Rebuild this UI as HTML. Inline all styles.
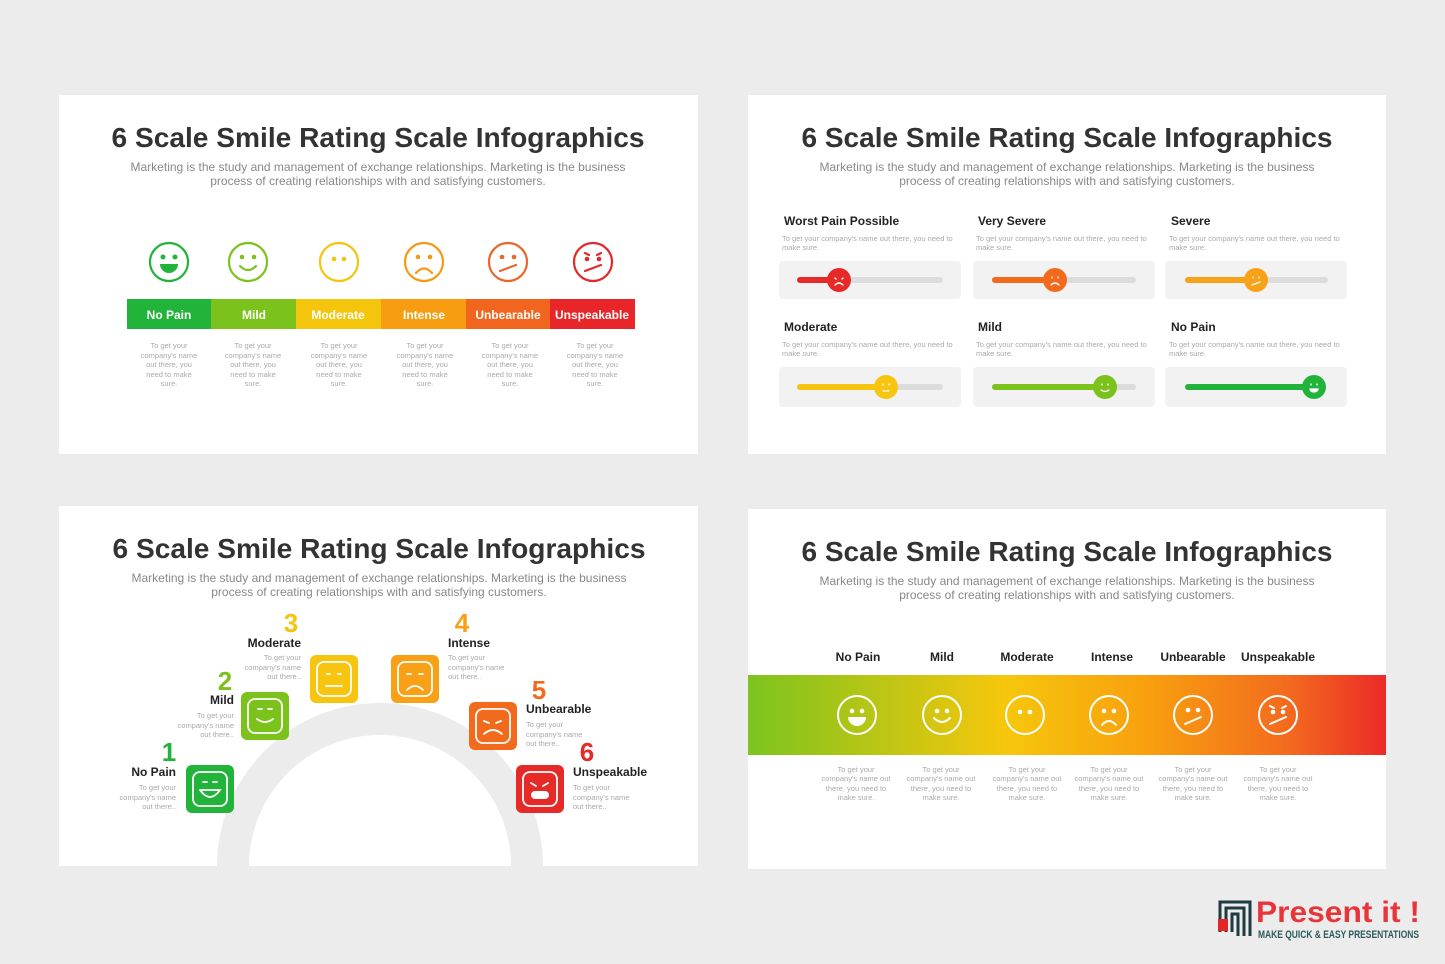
<!DOCTYPE html>
<html><head><meta charset="utf-8"><style>
html,body{margin:0;padding:0;background:#ececec;}
svg{display:block;font-family:"Liberation Sans",sans-serif;}
.t{font-weight:bold;font-size:28px;fill:#333;}
.s{font-size:12px;fill:#888;}
.d{font-size:7.5px;fill:#aaa;}
.l{font-size:12px;fill:#222;font-weight:bold;}
.w{font-size:12px;fill:#fff;font-weight:bold;}
</style></head><body>
<svg width="1445" height="964" viewBox="0 0 1445 964" xmlns="http://www.w3.org/2000/svg">
<defs>
<linearGradient id="bg" x1="0" x2="1" y1="0" y2="0">
<stop offset="0" stop-color="#7cc41e"/><stop offset="0.4" stop-color="#f6c70c"/><stop offset="0.62" stop-color="#f8a10e"/><stop offset="0.85" stop-color="#f36a1e"/><stop offset="1" stop-color="#ec2a28"/>
</linearGradient>
<clipPath id="bl"><rect x="59" y="506" width="639" height="360"/></clipPath>
</defs>
<rect width="1445" height="964" fill="#ececec"/>
<!-- slides -->
<rect x="59" y="95" width="639" height="359" fill="#fff"/>
<rect x="748" y="95" width="638" height="359" fill="#fff"/>
<rect x="59" y="506" width="639" height="360" fill="#fff"/>
<rect x="748" y="509" width="638" height="360" fill="#fff"/>

<!-- titles -->
<g text-anchor="middle">
<text class="t" x="378" y="147" textLength="533" lengthAdjust="spacingAndGlyphs">6 Scale Smile Rating Scale Infographics</text>
<text class="s" x="378" y="171">Marketing is the study and management of exchange relationships. Marketing is the business</text>
<text class="s" x="378" y="185">process of creating relationships with and satisfying customers.</text>
<text class="t" x="1067" y="147" textLength="531" lengthAdjust="spacingAndGlyphs">6 Scale Smile Rating Scale Infographics</text>
<text class="s" x="1067" y="171">Marketing is the study and management of exchange relationships. Marketing is the business</text>
<text class="s" x="1067" y="185">process of creating relationships with and satisfying customers.</text>
<text class="t" x="379" y="558" textLength="533" lengthAdjust="spacingAndGlyphs">6 Scale Smile Rating Scale Infographics</text>
<text class="s" x="379" y="582">Marketing is the study and management of exchange relationships. Marketing is the business</text>
<text class="s" x="379" y="596">process of creating relationships with and satisfying customers.</text>
<text class="t" x="1067" y="561" textLength="531" lengthAdjust="spacingAndGlyphs">6 Scale Smile Rating Scale Infographics</text>
<text class="s" x="1067" y="585">Marketing is the study and management of exchange relationships. Marketing is the business</text>
<text class="s" x="1067" y="599">process of creating relationships with and satisfying customers.</text>
</g>

<!-- TL faces -->
<g fill="none" stroke-width="2.2" stroke-linecap="round">
<g transform="translate(169,262)" stroke="#22b33a"><circle r="19"/><circle cx="-6" cy="-5" r="2.5" fill="#22b33a" stroke="none"/><circle cx="6" cy="-5" r="2.5" fill="#22b33a" stroke="none"/><path d="M-9,2 A9,9 0 0 0 9,2 Z" fill="#22b33a" stroke="none"/></g>
<g transform="translate(248,262)" stroke="#7cc21d"><circle r="19"/><circle cx="-6" cy="-5" r="2.3" fill="#7cc21d" stroke="none"/><circle cx="6" cy="-5" r="2.3" fill="#7cc21d" stroke="none"/><path d="M-8,4 Q0,12 8,4"/></g>
<g transform="translate(339,262)" stroke="#f5c40c"><circle r="19"/><circle cx="-5" cy="-3" r="2.3" fill="#f5c40c" stroke="none"/><circle cx="5" cy="-3" r="2.3" fill="#f5c40c" stroke="none"/></g>
<g transform="translate(424,262)" stroke="#f29a14"><circle r="19"/><circle cx="-6" cy="-5" r="2.3" fill="#f29a14" stroke="none"/><circle cx="6" cy="-5" r="2.3" fill="#f29a14" stroke="none"/><path d="M-8,11 Q0,2 8,11"/></g>
<g transform="translate(508,262)" stroke="#e8672a"><circle r="19"/><circle cx="-6" cy="-5" r="2.3" fill="#e8672a" stroke="none"/><circle cx="6" cy="-5" r="2.3" fill="#e8672a" stroke="none"/><path d="M-8,9 L8,3"/></g>
<g transform="translate(593,262)" stroke="#e2282c"><circle r="19"/><circle cx="-6" cy="-3" r="2.3" fill="#e2282c" stroke="none"/><circle cx="6" cy="-3" r="2.3" fill="#e2282c" stroke="none"/><path d="M-8,-9 L-4,-7 M8,-9 L4,-7 M-8,9 L8,3"/></g>
</g>
<rect x="127" y="299" width="85" height="30" fill="#22b33a"/>
<rect x="211" y="299" width="86" height="30" fill="#7cc21d"/>
<rect x="296" y="299" width="86" height="30" fill="#f5c40c"/>
<rect x="381" y="299" width="86" height="30" fill="#f89d12"/>
<rect x="466" y="299" width="85" height="30" fill="#f2651f"/>
<rect x="550" y="299" width="85" height="30" fill="#e8262a"/>
<g text-anchor="middle">
<text class="w" x="169" y="319">No Pain</text><text class="w" x="254" y="319">Mild</text><text class="w" x="338" y="319">Moderate</text><text class="w" x="424" y="319">Intense</text><text class="w" x="508" y="319">Unbearable</text><text class="w" x="592" y="319">Unspeakable</text>
</g>
<g text-anchor="middle" class="d">
<g transform="translate(169,0)"><text y="348" class="d">To get your</text><text y="358" class="d">company's name</text><text y="367" class="d">out there, you</text><text y="377" class="d">need to make</text><text y="386" class="d">sure.</text></g>
<g transform="translate(253,0)"><text y="348" class="d">To get your</text><text y="358" class="d">company's name</text><text y="367" class="d">out there, you</text><text y="377" class="d">need to make</text><text y="386" class="d">sure.</text></g>
<g transform="translate(339,0)"><text y="348" class="d">To get your</text><text y="358" class="d">company's name</text><text y="367" class="d">out there, you</text><text y="377" class="d">need to make</text><text y="386" class="d">sure.</text></g>
<g transform="translate(425,0)"><text y="348" class="d">To get your</text><text y="358" class="d">company's name</text><text y="367" class="d">out there, you</text><text y="377" class="d">need to make</text><text y="386" class="d">sure.</text></g>
<g transform="translate(510,0)"><text y="348" class="d">To get your</text><text y="358" class="d">company's name</text><text y="367" class="d">out there, you</text><text y="377" class="d">need to make</text><text y="386" class="d">sure.</text></g>
<g transform="translate(595,0)"><text y="348" class="d">To get your</text><text y="358" class="d">company's name</text><text y="367" class="d">out there, you</text><text y="377" class="d">need to make</text><text y="386" class="d">sure.</text></g>
</g>

<!-- TR sliders -->
<g>
<text class="l" x="784" y="225">Worst Pain Possible</text><text class="l" x="978" y="225">Very Severe</text><text class="l" x="1171" y="225">Severe</text>
<text class="l" x="784" y="331">Moderate</text><text class="l" x="978" y="331">Mild</text><text class="l" x="1171" y="331">No Pain</text>
<g class="d">
<text x="782" y="241" class="d">To get your company's name out there, you need to</text><text x="782" y="250" class="d">make sure.</text>
<text x="976" y="241" class="d">To get your company's name out there, you need to</text><text x="976" y="250" class="d">make sure.</text>
<text x="1169" y="241" class="d">To get your company's name out there, you need to</text><text x="1169" y="250" class="d">make sure.</text>
<text x="782" y="347" class="d">To get your company's name out there, you need to</text><text x="782" y="356" class="d">make sure.</text>
<text x="976" y="347" class="d">To get your company's name out there, you need to</text><text x="976" y="356" class="d">make sure.</text>
<text x="1169" y="347" class="d">To get your company's name out there, you need to</text><text x="1169" y="356" class="d">make sure.</text>
</g>
<rect x="779" y="261" width="182" height="38" rx="4" fill="#f2f2f2"/>
<rect x="973" y="261" width="182" height="38" rx="4" fill="#f2f2f2"/>
<rect x="1165" y="261" width="182" height="38" rx="4" fill="#f2f2f2"/>
<rect x="779" y="367" width="182" height="40" rx="4" fill="#f2f2f2"/>
<rect x="973" y="367" width="182" height="40" rx="4" fill="#f2f2f2"/>
<rect x="1165" y="367" width="182" height="40" rx="4" fill="#f2f2f2"/>
<g stroke-width="6" stroke-linecap="round">
<line x1="800" y1="280" x2="940" y2="280" stroke="#dcdcdc"/><line x1="800" y1="280" x2="839" y2="280" stroke="#e52a27"/>
<line x1="995" y1="280" x2="1133" y2="280" stroke="#dcdcdc"/><line x1="995" y1="280" x2="1055" y2="280" stroke="#f26b1d"/>
<line x1="1188" y1="280" x2="1325" y2="280" stroke="#dcdcdc"/><line x1="1188" y1="280" x2="1256" y2="280" stroke="#f8a21a"/>
<line x1="800" y1="387" x2="940" y2="387" stroke="#dcdcdc"/><line x1="800" y1="387" x2="886" y2="387" stroke="#f7c510"/>
<line x1="995" y1="387" x2="1133" y2="387" stroke="#dcdcdc"/><line x1="995" y1="387" x2="1105" y2="387" stroke="#7cc21d"/>
<line x1="1188" y1="387" x2="1314" y2="387" stroke="#22b33a"/>
</g>
<circle cx="839" cy="280" r="12" fill="#e52a27"/><circle cx="1055" cy="280" r="12" fill="#f26b1d"/><circle cx="1256" cy="280" r="12" fill="#f8a21a"/>
<circle cx="886" cy="387" r="12" fill="#f7c510"/><circle cx="1105" cy="387" r="12" fill="#7cc21d"/><circle cx="1314" cy="387" r="12" fill="#22b33a"/>
<g fill="none" stroke="#fff" stroke-width="1.3" stroke-linecap="round">
<path d="M835,278 l1,1 M843,278 l-1,1 M835,285 q4,-4 8,0"/>
<path d="M1052,277 l0,1 M1058,277 l0,1 M1051,285 q4,-4 8,0"/>
<path d="M1253,277 l0,1 M1259,277 l0,1 M1252,285 l8,-3"/>
<path d="M883,384 l0,1 M889,384 l0,1 M883,391 l6,0"/>
<path d="M1102,384 l0,1 M1108,384 l0,1 M1101,390 q4,3 8,0"/>
<path d="M1311,384 l0,1 M1317,384 l0,1 M1310,389 a4,3 0 0 0 8,0z" fill="#fff"/>
</g>
</g>

<!-- BL arc -->
<g clip-path="url(#bl)">
<path d="M217,866 A163,163 0 0 1 543,866 L511,866 A131,131 0 0 0 249,866 Z" fill="#ececec"/>
</g>
<g>
<rect x="186" y="765" width="48" height="48" rx="6" fill="#22b33a"/>
<rect x="241" y="692" width="48" height="48" rx="6" fill="#7cc21d"/>
<rect x="310" y="655" width="48" height="48" rx="6" fill="#f7c510"/>
<rect x="391" y="655" width="48" height="48" rx="6" fill="#f8a016"/>
<rect x="469" y="702" width="48" height="48" rx="6" fill="#f26b1d"/>
<rect x="516" y="765" width="48" height="48" rx="6" fill="#e52a27"/>
<g fill="none" stroke="#fff" stroke-width="1.8" stroke-linecap="round">
<rect x="193" y="772" width="34" height="34" rx="7"/><rect x="248" y="699" width="34" height="34" rx="7"/><rect x="317" y="662" width="34" height="34" rx="7"/>
<rect x="398" y="662" width="34" height="34" rx="7"/><rect x="476" y="709" width="34" height="34" rx="7"/><rect x="523" y="772" width="34" height="34" rx="7"/>
<path d="M203,782 h4 M213,782 h4 M200,790 h20 q-10,14 -20,0"/>
<path d="M258,709 h4 M268,709 h4 M257,719 q8,6 16,0"/>
<path d="M327,674 h3 M338,674 h3 M326,686 h16"/>
<path d="M407,674 h4 M419,674 h4 M407,690 q8,-8 16,0"/>
<path d="M484,721 l5,2 M501,721 l-5,2 M484,734 q9,-8 18,0"/>
<path d="M531,783 l5,3 M548,783 l-5,3"/>
</g>
<rect x="531" y="791" width="18" height="8" rx="4" fill="#fff"/>
<g font-weight="bold" font-size="26">
<text x="169" y="761" text-anchor="middle" fill="#22b33a">1</text>
<text x="225" y="690" text-anchor="middle" fill="#7cc21d">2</text>
<text x="291" y="632" text-anchor="middle" fill="#f5c40c">3</text>
<text x="462" y="632" text-anchor="middle" fill="#f8a016">4</text>
<text x="539" y="699" text-anchor="middle" fill="#f26b1d">5</text>
<text x="587" y="761" text-anchor="middle" fill="#e52a27">6</text>
</g>
<g text-anchor="end">
<text class="l" x="176" y="776">No Pain</text><text class="d" x="176" y="790">To get your</text><text class="d" x="176" y="800">company's name</text><text class="d" x="176" y="809">out there..</text>
<text class="l" x="234" y="704">Mild</text><text class="d" x="234" y="718">To get your</text><text class="d" x="234" y="728">company's name</text><text class="d" x="234" y="737">out there..</text>
<text class="l" x="301" y="647">Moderate</text><text class="d" x="301" y="660">To get your</text><text class="d" x="301" y="670">company's name</text><text class="d" x="301" y="679">out there..</text>
</g>
<text class="l" x="448" y="647">Intense</text><text class="d" x="448" y="660">To get your</text><text class="d" x="448" y="670">company's name</text><text class="d" x="448" y="679">out there..</text>
<text class="l" x="526" y="713">Unbearable</text><text class="d" x="526" y="727">To get your</text><text class="d" x="526" y="737">company's name</text><text class="d" x="526" y="746">out there..</text>
<text class="l" x="573" y="776">Unspeakable</text><text class="d" x="573" y="790">To get your</text><text class="d" x="573" y="800">company's name</text><text class="d" x="573" y="809">out there..</text>
</g>

<!-- BR band -->
<g text-anchor="middle">
<text class="l" x="858" y="661">No Pain</text><text class="l" x="942" y="661">Mild</text><text class="l" x="1027" y="661">Moderate</text><text class="l" x="1112" y="661">Intense</text><text class="l" x="1193" y="661">Unbearable</text><text class="l" x="1278" y="661">Unspeakable</text>
</g>
<rect x="748" y="675" width="638" height="80" fill="url(#bg)"/>
<g fill="none" stroke="#fff" stroke-width="2" stroke-linecap="round">
<g transform="translate(857,715)"><circle r="19"/><circle cx="-5" cy="-4" r="2.3" fill="#fff" stroke="none"/><circle cx="5" cy="-4" r="2.3" fill="#fff" stroke="none"/><path d="M-9,2 A9,9 0 0 0 9,2 Z" fill="#fff" stroke="none"/></g>
<g transform="translate(942,715)"><circle r="19"/><circle cx="-5" cy="-4" r="2.3" fill="#fff" stroke="none"/><circle cx="5" cy="-4" r="2.3" fill="#fff" stroke="none"/><path d="M-8,3 Q0,11 8,3"/></g>
<g transform="translate(1025,715)"><circle r="19"/><circle cx="-5" cy="-3" r="2.3" fill="#fff" stroke="none"/><circle cx="5" cy="-3" r="2.3" fill="#fff" stroke="none"/></g>
<g transform="translate(1109,715)"><circle r="19"/><circle cx="-5" cy="-4" r="2.3" fill="#fff" stroke="none"/><circle cx="5" cy="-4" r="2.3" fill="#fff" stroke="none"/><path d="M-7,10 Q0,2 7,10"/></g>
<g transform="translate(1193,715)"><circle r="19"/><circle cx="-5" cy="-5" r="2.3" fill="#fff" stroke="none"/><circle cx="5" cy="-5" r="2.3" fill="#fff" stroke="none"/><path d="M-8,9 L8,2"/></g>
<g transform="translate(1278,715)"><circle r="19"/><circle cx="-5" cy="-3" r="2.3" fill="#fff" stroke="none"/><circle cx="5" cy="-3" r="2.3" fill="#fff" stroke="none"/><path d="M-8,-9 L-4,-7 M8,-9 L4,-7 M-8,9 L8,2"/></g>
</g>
<g text-anchor="middle">
<g transform="translate(856,0)"><text y="772" class="d">To get your</text><text y="781" class="d">company's name out</text><text y="791" class="d">there, you need to</text><text y="800" class="d">make sure.</text></g>
<g transform="translate(941,0)"><text y="772" class="d">To get your</text><text y="781" class="d">company's name out</text><text y="791" class="d">there, you need to</text><text y="800" class="d">make sure.</text></g>
<g transform="translate(1027,0)"><text y="772" class="d">To get your</text><text y="781" class="d">company's name out</text><text y="791" class="d">there, you need to</text><text y="800" class="d">make sure.</text></g>
<g transform="translate(1109,0)"><text y="772" class="d">To get your</text><text y="781" class="d">company's name out</text><text y="791" class="d">there, you need to</text><text y="800" class="d">make sure.</text></g>
<g transform="translate(1193,0)"><text y="772" class="d">To get your</text><text y="781" class="d">company's name out</text><text y="791" class="d">there, you need to</text><text y="800" class="d">make sure.</text></g>
<g transform="translate(1278,0)"><text y="772" class="d">To get your</text><text y="781" class="d">company's name out</text><text y="791" class="d">there, you need to</text><text y="800" class="d">make sure.</text></g>
</g>

<!-- logo -->
<g fill="none" stroke="#1f3a40" stroke-width="3">
<path d="M1220,932 V902 H1250 V936"/><path d="M1226,932 V908 H1244 V936"/><path d="M1232,932 V914 H1238 V936"/>
</g>
<rect x="1218" y="919" width="10" height="12" fill="#e3262a"/>
<text x="1256" y="922" font-size="30" font-weight="bold" fill="#e8353a" textLength="164" lengthAdjust="spacingAndGlyphs">Present it !</text>
<text x="1258" y="938" font-size="11" font-weight="bold" fill="#2e5a5a" textLength="161" lengthAdjust="spacingAndGlyphs">MAKE QUICK &amp; EASY PRESENTATIONS</text>
</svg>
</body></html>
